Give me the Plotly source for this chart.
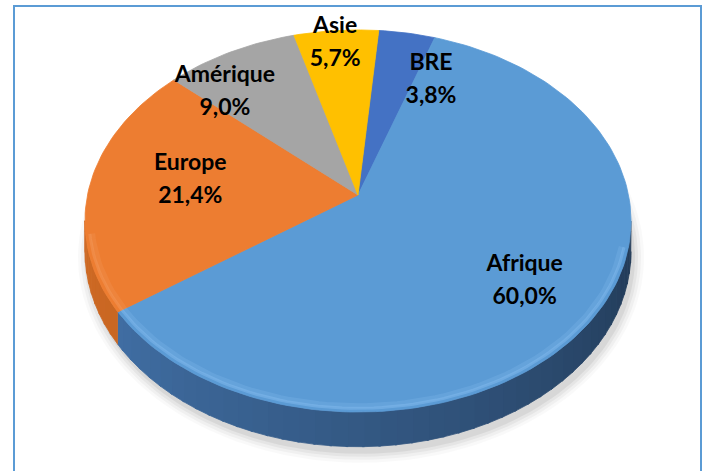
import numpy as np
import plotly.graph_objects as go

# ---- data ----
categories = ["BRE", "Afrique", "Europe", "Amérique", "Asie"]
shares = [3.8, 60.0, 21.4, 9.0, 5.7]

# ---- style / layout ----
top_colors = ["#4472C4", "#5B9BD5", "#ED7D31", "#A5A5A5", "#FFC000"]
wall_left = [(52, 88, 150), (70, 120, 178), (207, 106, 36), (140, 140, 140), (210, 160, 0)]
wall_right = [(30, 50, 95), (33, 57, 85), (170, 85, 25), (100, 100, 100), (170, 130, 0)]
rim_colors = ["#6b8fd6", "#86bdf0", "#f49b5e", "#c0c0c0", "#ffd24d"]
label_r = [0.725, 0.726, 0.631, 0.795, 0.913]
label_shift = [12.1, 0.25, 3.4, -10.2, -0.7]

W, H = 707, 471
CX, CY = 358.0, 195.0
A, B, P = 270.5, 187.5, 0.136
DEPTH = 30.0
START = 5.0


def proj(u, w, drop=0.0):
    s = 1.0 + P * w
    return CX + A * u / s, CY - B * w / s + drop / s


def arc(a1, a2, r=1.0, drop=0.0, n=None):
    if n is None:
        n = max(6, int(abs(a2 - a1) / 1.5) + 2)
    t = np.radians(np.linspace(a1, a2, n))
    return proj(r * np.sin(t), r * np.cos(t), drop)


def mix(c1, c2, f):
    return "rgb(%d,%d,%d)" % tuple(int(round(a + (b - a) * f)) for a, b in zip(c1, c2))


total = sum(shares)
bounds = [START]
for v in shares:
    bounds.append(bounds[-1] + 360.0 * v / total)

fig = go.Figure()

# soft shadow under the pie
bx, by = arc(0, 360, 1.0, DEPTH, 200)
for k, op in [(10, 0.025), (7, 0.035), (4, 0.045), (1, 0.06)]:
    dx = bx - CX
    dy = by - (CY + 60)
    nrm = np.hypot(dx, dy)
    sx = bx + dx / nrm * k + 3
    sy = by + dy / nrm * k + 6
    fig.add_trace(go.Scatter(x=sx, y=sy, fill="toself", mode="lines",
                             line=dict(width=0), fillcolor="rgba(0,0,0,%.3f)" % op,
                             hoverinfo="skip"))

# side walls (visible front part only)
vis_lo = np.degrees(np.arccos(-P))
vis_hi = 360.0 - vis_lo
for i in range(len(shares)):
    a1, a2 = max(bounds[i], vis_lo), min(bounds[i + 1], vis_hi)
    if a2 <= a1:
        continue
    edges = np.arange(a1, a2, 3.0).tolist() + [a2]
    for j in range(len(edges) - 1):
        e1, e2 = edges[j], edges[j + 1] + (0.4 if j < len(edges) - 2 else 0)
        tx, ty = arc(e1, e2, 1.0, 0.0, 4)
        dx_, dy_ = arc(e2, e1, 1.0, DEPTH, 4)
        f = ((e1 + e2) / 2 - vis_lo) / (vis_hi - vis_lo)
        col = mix(wall_right[i], wall_left[i], f)
        fig.add_trace(go.Scatter(x=np.r_[tx, dx_], y=np.r_[ty, dy_], fill="toself",
                                 mode="lines", line=dict(width=0.8, color=col),
                                 fillcolor=col, hoverinfo="skip"))

# top faces
for i, name in enumerate(categories):
    ax, ay = arc(bounds[i], bounds[i + 1])
    x = np.r_[CX, ax, CX]
    y = np.r_[CY, ay, CY]
    fig.add_trace(go.Scatter(x=x, y=y, fill="toself", mode="lines",
                             line=dict(width=0.8, color=top_colors[i]),
                             fillcolor=top_colors[i], name=name, hoverinfo="skip"))

# soft bevel highlight on the front rim
for i in range(len(shares)):
    a1, a2 = max(bounds[i], vis_lo + 8), min(bounds[i + 1], vis_hi - 4)
    if a2 <= a1:
        continue
    for rr, wd, op in [(0.975, 5, 0.25), (0.985, 3, 0.45)]:
        hx, hy = arc(a1, a2, rr)
        fig.add_trace(go.Scatter(x=hx, y=hy, mode="lines",
                                 line=dict(width=wd, color=rim_colors[i]),
                                 opacity=op, hoverinfo="skip"))

# data labels
names_x, names_y, vals_x, vals_y, names_t, vals_t = [], [], [], [], [], []
for i, name in enumerate(categories):
    mid = (bounds[i] + bounds[i + 1]) / 2 + label_shift[i]
    t = np.radians(mid)
    lx, ly = proj(label_r[i] * np.sin(t), label_r[i] * np.cos(t))
    names_x.append(lx)
    names_y.append(ly - 16.5)
    vals_x.append(lx)
    vals_y.append(ly + 16.5)
    names_t.append("<b>%s</b>" % name)
    vals_t.append("<b>%s</b>" % ("%.1f%%" % shares[i]).replace(".", ","))

font = dict(family="Lato", size=23, color="black")
fig.add_trace(go.Scatter(x=names_x, y=names_y, mode="text", text=names_t,
                         textfont=font, textposition="middle center", hoverinfo="skip"))
fig.add_trace(go.Scatter(x=vals_x, y=vals_y, mode="text", text=vals_t,
                         textfont=font, textposition="middle center", hoverinfo="skip"))

fig.add_shape(type="rect", xref="x", yref="y", x0=14, x1=701, y0=6, y1=490,
              line=dict(color="#5B9BD5", width=2), layer="above")

fig.update_layout(
    width=W, height=H, margin=dict(l=0, r=0, t=0, b=0),
    paper_bgcolor="white", plot_bgcolor="white", showlegend=False,
    xaxis=dict(range=[0, W], visible=False, fixedrange=True),
    yaxis=dict(range=[H, 0], visible=False, fixedrange=True),
)

fig.write_html("out.html", config={"displayModeBar": False},
               post_script="document.body.style.margin='0';")
